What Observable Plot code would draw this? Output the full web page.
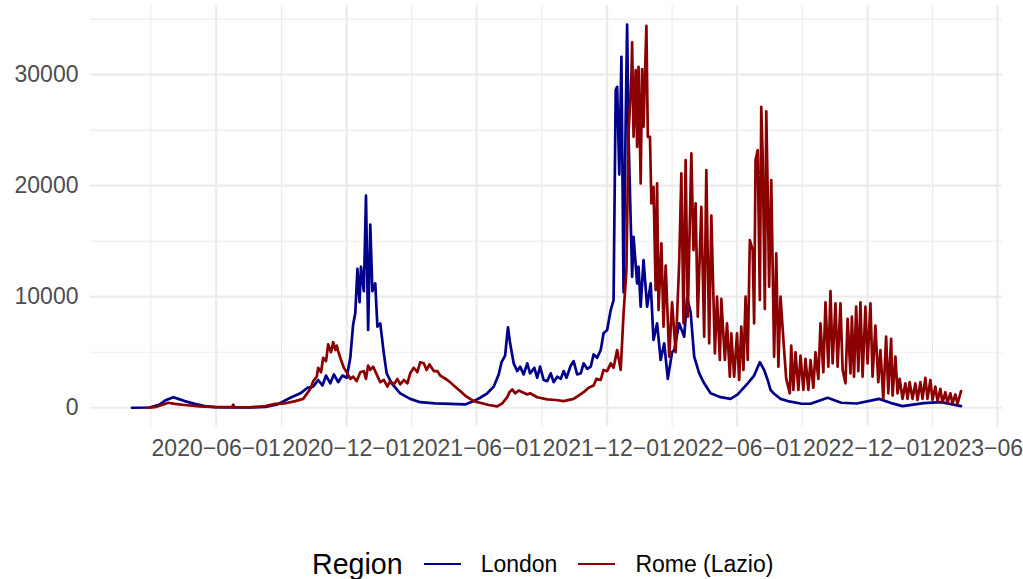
<!DOCTYPE html>
<html>
<head>
<meta charset="utf-8">
<script src="https://cdn.jsdelivr.net/npm/d3@7"></script>
<script src="https://cdn.jsdelivr.net/npm/@observablehq/plot@0.6"></script>
<style>
  body { margin: 0; background: #fff; font-family: "Liberation Sans", Arial, sans-serif; }
  #wrap { position: relative; width: 1023px; height: 579px; overflow: hidden; background: #fff; }
  #legend { position: absolute; left: 312px; top: 548px; height: 32px; display: flex; align-items: center; white-space: nowrap; color: #000; }
  #legend .title { font-size: 28.6px; margin-right: 21px; }
  #legend .key { display: inline-block; width: 37px; height: 2.6px; margin-right: 20px; }
  #legend .lab { font-size: 23px; margin-right: 21px; }
</style>
</head>
<body>
<div id="wrap"><div id="chart"></div><div id="legend"></div></div>
<script>
// ---- data ----
const regions = ["London", "Rome (Lazio)"];
const colors = ["#00008b", "#8b0000"];
const xTicks = ["2020-06-01", "2020-12-01", "2021-06-01", "2021-12-01", "2022-06-01", "2022-12-01", "2023-06-01"];
const yTicks = [0, 10000, 20000, 30000];

const londonDates = [
  "2020-02-04","2020-02-29","2020-03-14","2020-03-23","2020-04-02","2020-04-09","2020-04-18","2020-05-02","2020-05-16","2020-05-31",
  "2020-06-21","2020-07-19","2020-08-09","2020-08-26","2020-09-13","2020-09-27","2020-10-07","2020-10-15","2020-10-22","2020-10-28",
  "2020-11-02","2020-11-08","2020-11-13","2020-11-19","2020-11-25","2020-12-01","2020-12-06","2020-12-10","2020-12-13","2020-12-16",
  "2020-12-19","2020-12-21","2020-12-25","2020-12-28","2020-12-31","2021-01-03","2021-01-06","2021-01-10","2021-01-13","2021-01-17",
  "2021-01-22","2021-01-26","2021-02-02","2021-02-14","2021-02-28","2021-03-14","2021-04-04","2021-04-25","2021-05-16","2021-05-28",
  "2021-06-06","2021-06-16","2021-06-25","2021-07-02","2021-07-06","2021-07-11","2021-07-15","2021-07-18","2021-07-23","2021-07-28",
  "2021-08-01","2021-08-06","2021-08-11","2021-08-15","2021-08-21","2021-08-25","2021-08-29","2021-09-03","2021-09-08","2021-09-13",
  "2021-09-17","2021-09-22","2021-09-27","2021-10-01","2021-10-05","2021-10-11","2021-10-15","2021-10-20","2021-10-25","2021-10-29",
  "2021-11-03","2021-11-08","2021-11-12","2021-11-17","2021-11-22","2021-11-26","2021-12-01","2021-12-06","2021-12-10","2021-12-13",
  "2021-12-15","2021-12-18","2021-12-21","2021-12-24","2021-12-27","2021-12-29","2021-12-31","2022-01-05","2022-01-07","2022-01-12",
  "2022-01-14","2022-01-17","2022-01-21","2022-01-26","2022-01-31","2022-02-04","2022-02-09","2022-02-14","2022-02-19","2022-02-24",
  "2022-03-02","2022-03-05","2022-03-12","2022-03-19","2022-03-23","2022-03-28","2022-04-02","2022-04-09","2022-04-16","2022-04-25",
  "2022-05-09","2022-05-23","2022-06-02","2022-06-16","2022-06-25","2022-07-03","2022-07-09","2022-07-14","2022-07-18","2022-07-23",
  "2022-08-01","2022-08-11","2022-08-29","2022-09-12","2022-10-06","2022-10-25","2022-11-16","2022-12-17","2023-01-03","2023-01-19",
  "2023-02-18","2023-03-14","2023-04-11"
];
const londonCases = [
  0,20,300,700,950,800,600,350,150,60,
  30,30,80,300,900,1300,1800,1900,2500,2000,
  2900,2200,3000,2300,2900,2700,4500,7500,8500,12500,
  9500,12700,10500,19100,7000,16500,10500,11200,7300,7600,
  4900,3100,2200,1300,800,500,400,350,300,600,
  900,1300,1900,3000,4100,4700,7250,5800,4000,3300,
  3700,3000,4000,3100,3600,2700,3700,2500,2400,3100,
  2300,2800,2600,3300,2700,3800,4200,3000,3100,4000,
  3500,3700,4800,4500,5200,6700,7000,8800,9700,28600,
  28900,21000,31600,10400,25900,34500,24400,11800,15400,11200,
  12700,9100,13300,9100,11200,6100,7600,4300,5800,2600,
  5000,5200,7600,6400,9900,8600,4600,3100,2200,1300,
  950,800,1200,2200,2900,4100,3400,2500,1600,1260,
  800,600,380,360,900,450,380,800,420,150,
  420,500,150
];

const romeDates = [
  "2020-02-25","2020-03-07","2020-03-17","2020-03-26","2020-04-04","2020-04-18","2020-05-09","2020-05-31","2020-06-23","2020-06-25",
  "2020-06-26","2020-07-19","2020-08-09","2020-08-23","2020-09-06","2020-09-20","2020-10-01","2020-10-11","2020-10-15","2020-10-20",
  "2020-10-22","2020-10-26","2020-10-29","2020-11-02","2020-11-05","2020-11-09","2020-11-12","2020-11-15","2020-11-17","2020-11-19",
  "2020-11-23","2020-11-27","2020-12-01","2020-12-06","2020-12-10","2020-12-15","2020-12-20","2020-12-25","2020-12-28","2020-12-31",
  "2021-01-03","2021-01-07","2021-01-12","2021-01-17","2021-01-22","2021-01-27","2021-01-31","2021-02-05","2021-02-10","2021-02-14",
  "2021-02-19","2021-02-24","2021-02-28","2021-03-05","2021-03-10","2021-03-14","2021-03-19","2021-03-23","2021-03-27","2021-04-02",
  "2021-04-07","2021-04-11","2021-04-16","2021-04-21","2021-04-25","2021-05-02","2021-05-09","2021-05-16","2021-05-23","2021-05-30",
  "2021-06-06","2021-06-18","2021-06-30","2021-07-07","2021-07-14","2021-07-17","2021-07-21","2021-07-25","2021-07-30","2021-08-06",
  "2021-08-11","2021-08-15","2021-08-25","2021-09-08","2021-09-20","2021-10-01","2021-10-15","2021-10-22","2021-10-29","2021-11-05",
  "2021-11-12","2021-11-16","2021-11-22","2021-11-26","2021-12-01","2021-12-06","2021-12-10","2021-12-15","2021-12-20","2021-12-24",
  "2021-12-28","2021-12-31","2022-01-04","2022-01-05","2022-01-07","2022-01-10","2022-01-12","2022-01-14","2022-01-17","2022-01-19",
  "2022-01-21","2022-01-25","2022-01-27","2022-01-30","2022-02-01","2022-02-04","2022-02-07","2022-02-09","2022-02-11","2022-02-15",
  "2022-02-18","2022-02-21","2022-02-26","2022-03-02","2022-03-07","2022-03-12","2022-03-15","2022-03-18","2022-03-21","2022-03-24",
  "2022-03-29","2022-04-01","2022-04-04","2022-04-07","2022-04-12","2022-04-16","2022-04-19","2022-04-23","2022-04-26","2022-05-01",
  "2022-05-04","2022-05-08","2022-05-10","2022-05-15","2022-05-18","2022-05-22","2022-05-24","2022-05-28","2022-06-01","2022-06-04",
  "2022-06-07","2022-06-10","2022-06-13","2022-06-16","2022-06-19","2022-06-23","2022-06-25","2022-06-27","2022-06-30","2022-07-03",
  "2022-07-05","2022-07-07","2022-07-10","2022-07-12","2022-07-14","2022-07-16","2022-07-19","2022-07-23","2022-07-26","2022-07-29",
  "2022-08-01","2022-08-06","2022-08-09","2022-08-14","2022-08-16","2022-08-19","2022-08-22","2022-08-26","2022-08-29","2022-09-02",
  "2022-09-05","2022-09-09","2022-09-12","2022-09-16","2022-09-19","2022-09-23","2022-09-26","2022-09-30","2022-10-03","2022-10-07",
  "2022-10-10","2022-10-13","2022-10-17","2022-10-20","2022-10-24","2022-10-27","2022-10-31","2022-11-03","2022-11-07","2022-11-09",
  "2022-11-12","2022-11-15","2022-11-18","2022-11-21","2022-11-24","2022-11-28","2022-12-01","2022-12-05","2022-12-08","2022-12-12",
  "2022-12-16","2022-12-19","2022-12-23","2022-12-27","2022-12-30","2023-01-03","2023-01-05","2023-01-09","2023-01-12","2023-01-15",
  "2023-01-19","2023-01-23","2023-01-26","2023-01-29","2023-02-02","2023-02-06","2023-02-09","2023-02-13","2023-02-16","2023-02-20",
  "2023-02-23","2023-02-27","2023-03-02","2023-03-06","2023-03-09","2023-03-13","2023-03-16","2023-03-20","2023-03-23","2023-03-27",
  "2023-03-30","2023-04-03","2023-04-06","2023-04-11"
];
const romeCases = [
  0,50,250,450,350,250,120,60,50,280,
  50,40,150,350,400,600,800,1700,2400,2800,
  3600,3200,4500,4200,5700,5000,5900,5200,5600,5100,
  4300,3600,3200,2600,2800,2400,3200,3300,2600,3800,
  3400,3700,3000,2300,2500,1900,2400,2100,2600,2100,
  2500,2200,3100,3600,3200,4100,4000,3400,3900,3300,
  3300,2900,2700,2500,2300,1900,1500,1100,800,550,
  450,250,120,400,950,1400,1650,1300,1550,1350,
  1200,1300,950,750,700,600,800,1100,1400,1800,
  2000,2600,2500,3400,3300,4000,3600,5200,3400,8500,
  12400,24700,29800,32900,24400,30400,23500,30700,20200,30500,
  25300,34400,24400,24400,18400,19900,10600,20200,8800,14800,
  7300,12800,4600,9500,5000,13100,21100,7600,22300,8200,
  22900,14200,18400,8200,18100,6400,21400,5800,17300,4900,
  10000,4300,9800,4300,7600,2800,6700,2800,6700,2500,
  7300,3400,10000,4300,15100,14200,7600,22300,23200,9700,
  27100,22600,8900,26700,19600,10900,20500,4600,13900,3700,
  10000,5200,2600,1300,5600,1600,5000,1600,4700,1600,
  4400,1600,4300,1800,5000,2600,7600,3200,9500,3700,
  10500,4000,9400,3700,9400,3400,2200,8000,3100,8200,
  2800,9100,3300,9500,2800,9100,4000,9400,2800,7400,
  2300,5200,800,6400,1300,6200,1100,4600,1300,2600,
  800,2200,800,2300,800,2200,700,2300,800,2700,
  800,2500,700,1900,600,1700,450,1400,450,1300,
  400,1200,350,1500
];

// ---- build ----
const parse = d3.utcParse("%Y-%m-%d");
const rows = [];
londonDates.forEach((d, i) => rows.push({date: parse(d), cases: londonCases[i], region: regions[0]}));
romeDates.forEach((d, i) => rows.push({date: parse(d), cases: romeCases[i], region: regions[1]}));

const ext = d3.extent(rows, d => d.date);
const span = ext[1] - ext[0];
const xDomain = [new Date(+ext[0] - 0.05 * span), new Date(+ext[1] + 0.05 * span)];
const yMax = d3.max(rows, d => d.cases);
const yDomain = [-0.05 * yMax, 1.05 * yMax];

const majors = xTicks.map(parse);
const allMajors = [d3.utcMonth.offset(majors[0], -6), ...majors];
const xMinor = d3.pairs(allMajors).map(([a, b]) => new Date((+a + +b) / 2))
  .filter(d => d >= xDomain[0] && d <= xDomain[1]);
const yStep = yTicks[1] - yTicks[0];
const yMinor = yTicks.map(v => v + yStep / 2).filter(v => v <= yDomain[1]);

const fmt = d3.utcFormat("%Y\u2212%m\u2212%d");

const chart = Plot.plot({
  width: 1023,
  height: 480,
  marginLeft: 90,
  marginRight: 21,
  marginTop: 5,
  marginBottom: 53.6,
  style: {fontFamily: '"Liberation Sans", Arial, sans-serif', fontSize: "23px", color: "#4d4d4d", background: "#fff", overflow: "visible"},
  x: {type: "utc", domain: xDomain, ticks: majors, tickFormat: fmt, tickSize: 0, tickPadding: 13, label: null},
  y: {domain: yDomain, ticks: yTicks, tickFormat: d3.format("d"), tickSize: 0, tickPadding: 12, label: null},
  color: {domain: regions, range: colors},
  marks: [
    Plot.ruleY(yMinor, {stroke: "#ebebeb", strokeWidth: 1.1}),
    Plot.ruleX(xMinor, {stroke: "#ebebeb", strokeWidth: 1.1}),
    Plot.ruleY(yTicks, {stroke: "#ebebeb", strokeWidth: 2.2}),
    Plot.ruleX(majors, {stroke: "#ebebeb", strokeWidth: 2.2}),
    Plot.line(rows, {x: "date", y: "cases", z: "region", stroke: "region", strokeWidth: 2.7, strokeLinejoin: "round"})
  ]
});
document.getElementById("chart").appendChild(chart);

// ---- legend ----
const legend = document.getElementById("legend");
const t = document.createElement("span");
t.className = "title"; t.textContent = "Region";
legend.appendChild(t);
regions.forEach((r, i) => {
  const k = document.createElement("span");
  k.className = "key"; k.style.background = colors[i];
  legend.appendChild(k);
  const l = document.createElement("span");
  l.className = "lab"; l.textContent = r;
  legend.appendChild(l);
});
</script>
</body>
</html>
